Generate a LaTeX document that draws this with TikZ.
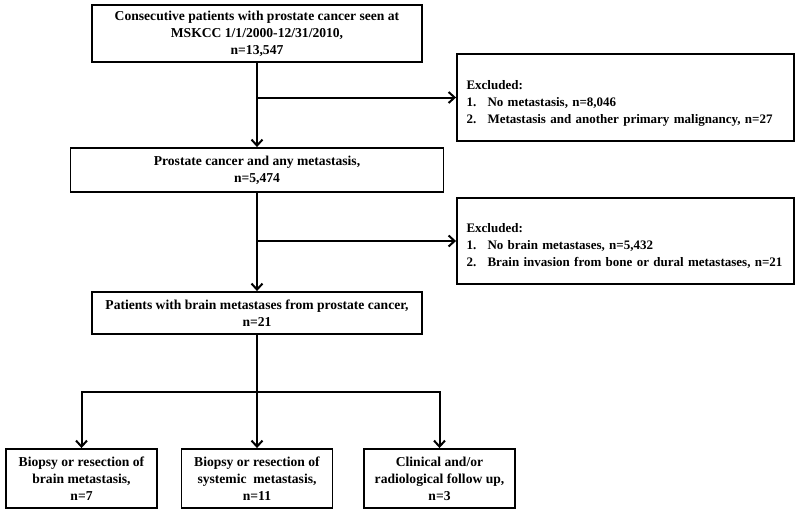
\documentclass[tikz,border=0pt]{standalone}
\usepackage{fontspec}
\setmainfont{Liberation Serif}
\usetikzlibrary{arrows.meta}
\begin{document}
\begin{tikzpicture}[x=1pt,y=-1pt,
  box/.style={draw, line width=1.9pt, inner sep=0pt, font=\bfseries\fontsize{13.6}{17}\selectfont, align=center},
  exbox/.style={draw, line width=1.9pt, inner sep=0pt, font=\bfseries\fontsize{13}{17}\selectfont, align=left, text width=318pt},
  conn/.style={line width=2pt},
  arr/.style={line width=2pt, -{Straight Barb[length=6pt,width=11pt,line width=2pt]}}]
\useasboundingbox[fill=white] (0,0) rectangle (800,514);
\newcommand{\itm}[1]{\makebox[21pt][l]{#1}}
\newcommand{\topstrut}{\rule{0pt}{20pt}}
\node[box, minimum width=330pt, minimum height=57pt] (b1) at (257,33.5) {Consecutive patients with prostate cancer seen at\\MSKCC 1/1/2000-12/31/2010,\\n=13,547};
\node[exbox, minimum width=337pt, minimum height=87pt] (e1) at (625.5,97.5) {\topstrut Excluded:\\\itm{1.}No metastasis, n=8,046\\\itm{2.}Metastasis and another primary malignancy, n=27};
\node[box, minimum width=373pt, minimum height=44pt] (b2) at (257,170) {Prostate cancer and any metastasis,\\n=5,474};
\node[exbox, minimum width=337pt, minimum height=86pt] (e2) at (625.5,241) {\topstrut Excluded:\\\itm{1.}No brain metastases, n=5,432\\\itm{2.}Brain invasion from bone or dural metastases, n=21};
\node[box, minimum width=330pt, minimum height=42pt] (b3) at (257,313) {Patients with brain metastases from prostate cancer,\\n=21};
\node[box, minimum width=151pt, minimum height=59pt] (c1) at (81.5,478.5) {Biopsy or resection of\\brain metastasis,\\n=7};
\node[box, minimum width=151pt, minimum height=59pt] (c2) at (257,478.5) {Biopsy or resection of\\systemic\ \ metastasis,\\n=11};
\node[box, minimum width=151pt, minimum height=59pt] (c3) at (439.5,478.5) {Clinical and/or\\radiological follow up,\\n=3};
\coordinate (j1) at (257,97.5);
\coordinate (j2) at (257,241);
\coordinate (j3) at (257,392);
\draw[arr] (b1) -- (b2);
\draw[arr] (j1) -- (e1.west);
\draw[arr] (b2) -- (b3);
\draw[arr] (j2) -- (e2.west);
\draw[conn] (b3) -- (j3);
\draw[arr] (j3) -| (c1.north);
\draw[arr] (j3) -- (c2.north);
\draw[arr] (j3) -| (c3.north);
\end{tikzpicture}
\end{document}
